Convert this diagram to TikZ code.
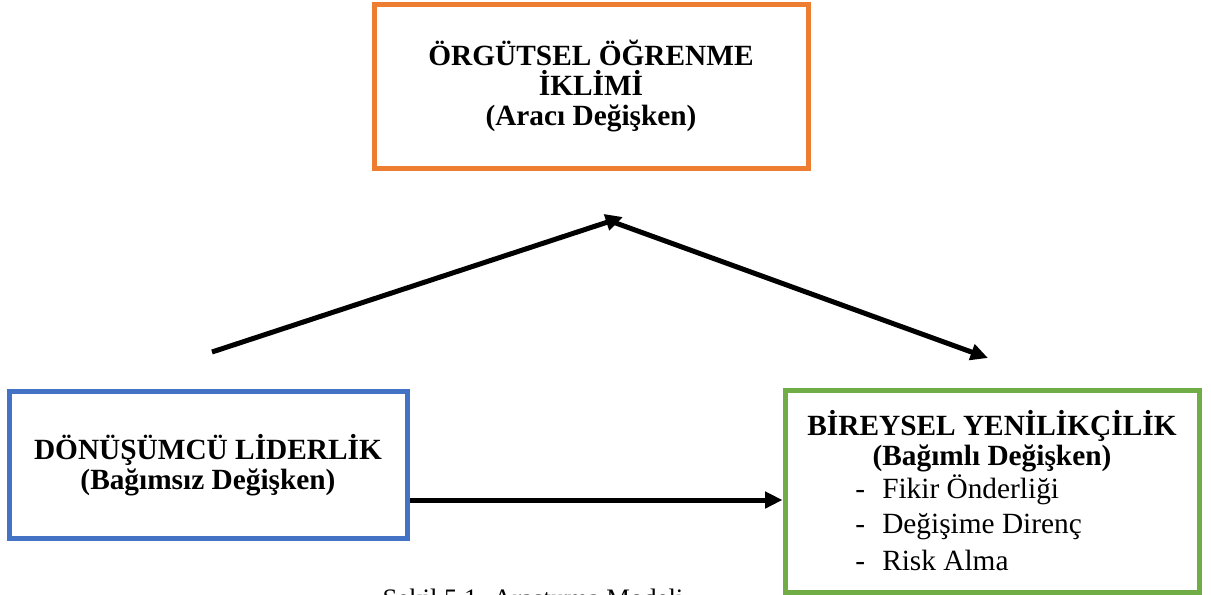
\documentclass[tikz,border=0pt]{standalone}
\usepackage{fontspec}
\setmainfont{Liberation Serif}
\usetikzlibrary{arrows.meta}
\definecolor{boxorange}{RGB}{237,125,49}
\definecolor{boxblue}{RGB}{68,114,196}
\definecolor{boxgreen}{RGB}{112,173,71}
\tikzset{
  frame/.style={draw, line width=3.75pt, fill=white, inner sep=0pt},
  heading/.style={font=\fontsize{22}{22.5}\selectfont\bfseries, align=center, inner sep=0pt},
  item/.style={font=\fontsize{22}{22.5}\selectfont, anchor=base west, inner sep=0pt},
  arr/.style={line width=3.75pt, -{Triangle[length=13pt,width=12pt]}},
}
\begin{document}
\begin{tikzpicture}[x=0.75pt,y=-0.75pt]
  \useasboundingbox (0,0) rectangle (1211,594);
  \clip (0,0) rectangle (1211,594);

  % the three variables
  \node[frame, draw=boxorange, minimum width=325.5pt, minimum height=123pt,
        heading] (mediator) at (591,86)
        {ÖRGÜTSEL ÖĞRENME\\İKLİMİ\\(Aracı Değişken)};
  \node[frame, draw=boxblue, minimum width=298.5pt, minimum height=110pt,
        heading] (independent) at (208,465)
        {DÖNÜŞÜMCÜ LİDERLİK\\(Bağımsız Değişken)};
  \node[frame, draw=boxgreen, minimum width=310.5pt, minimum height=151.5pt]
        (dependent) at (992,491) {};

  % contents of the dependent variable box (base = last heading line)
  \node[heading, anchor=base] (dtitle) at (992,465)
        {BİREYSEL YENİLİKÇİLİK\\(Bağımlı Değişken)};
  \node[item] (d1) at (855,498) {\makebox[20.25pt][l]{-}Fikir Önderliği};
  \node[item] (d2) at (855,533) {\makebox[20.25pt][l]{-}Değişime Direnç};
  \node[item] (d3) at (855,570) {\makebox[20.25pt][l]{-}Risk Alma};

  % connectors
  \coordinate (a1) at (212,352);
  \coordinate (apex) at (623,217);
  \coordinate (b1) at (613,222);
  \coordinate (b2) at (988,358);
  \coordinate (h) at (600,500);
  \draw[arr] (a1) -- (apex);
  \draw[arr] (b1) -- (b2);
  \draw[arr] (independent.east |- h) -- (dependent.west |- h);

  % caption
  \node[font=\fontsize{20}{24}\selectfont, anchor=base, inner sep=0pt] (caption)
        at (533,607) {Şekil 5.1. Araştırma Modeli};
\end{tikzpicture}
\end{document}
